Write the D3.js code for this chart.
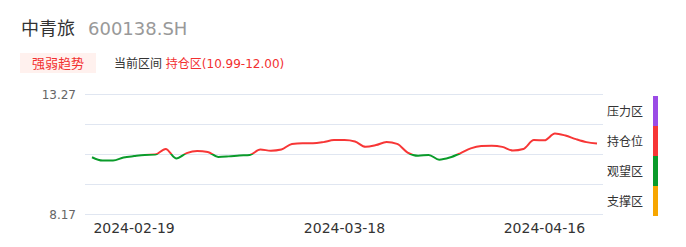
<!DOCTYPE html>
<html>
<head>
<meta charset="utf-8">
<script src="https://cdn.jsdelivr.net/npm/d3@7"></script>
<style>
  body { margin: 0; background: #fff; }
  text { font-family: "DejaVu Sans", "Noto Sans CJK SC", sans-serif; }
</style>
</head>
<body>
<script>
let w = 686;
let h = 247;

let stockName = "中青旅";
let stockCode = "600138.SH";
let zoneNow = "持仓区(10.99-12.00)";

// trading days shown on the chart
let dates = ["2024-02-05", "2024-02-06", "2024-02-07", "2024-02-08",
             "2024-02-19", "2024-02-20", "2024-02-21", "2024-02-22", "2024-02-23",
             "2024-02-26", "2024-02-27", "2024-02-28", "2024-02-29", "2024-03-01",
             "2024-03-04", "2024-03-05", "2024-03-06", "2024-03-07", "2024-03-08",
             "2024-03-11", "2024-03-12", "2024-03-13", "2024-03-14", "2024-03-15",
             "2024-03-18", "2024-03-19", "2024-03-20", "2024-03-21", "2024-03-22",
             "2024-03-25", "2024-03-26", "2024-03-27", "2024-03-28", "2024-03-29",
             "2024-04-01", "2024-04-02", "2024-04-03", "2024-04-08", "2024-04-09",
             "2024-04-10", "2024-04-11", "2024-04-12", "2024-04-15", "2024-04-16",
             "2024-04-17", "2024-04-18", "2024-04-19", "2024-04-22", "2024-04-23"];

let prices = [10.88, 10.77, 10.77, 10.87, 10.92, 10.96, 10.97, 11.16, 10.84, 11.02,
              11.09, 11.06, 10.89, 10.91, 10.94, 10.96, 11.14, 11.10, 11.14, 11.33,
              11.35, 11.35, 11.39, 11.46, 11.46, 11.41, 11.23, 11.29, 11.39, 11.33,
              11.04, 10.93, 10.96, 10.80, 10.87, 11.01, 11.18, 11.26, 11.27, 11.23,
              11.11, 11.16, 11.46, 11.45, 11.68, 11.61, 11.49, 11.39, 11.34];

let tickDates = ["2024-02-19", "2024-03-18", "2024-04-16"];
// zone boundaries, bottom to top
let bounds = [8.17, 9.98, 10.99, 12.00, 13.27];
let yLabels = ["13.27", "8.17"];
let zoneNames = ["压力区", "持仓位", "观望区", "支撑区"];
let zoneColors = ["#9b4be6", "#f73636", "#0a9b2a", "#f7a600"];

let svg = d3.select("body")
            .append("svg")
            .attr("width", w)
            .attr("height", h);

// header
svg.append("text")
   .attr("x", 21).attr("y", 35)
   .attr("font-size", "18px")
   .attr("fill", "#333")
   .text(stockName);
svg.append("text")
   .attr("x", 88).attr("y", 35)
   .attr("font-size", "18px")
   .attr("fill", "#999")
   .text(stockCode);

svg.append("rect")
   .attr("x", 20).attr("y", 53)
   .attr("width", 76).attr("height", 20)
   .attr("fill", "#fff1ee");
svg.append("text")
   .attr("x", 58).attr("y", 67.5)
   .attr("text-anchor", "middle")
   .attr("font-size", "13px")
   .attr("fill", "#f23030")
   .text("强弱趋势");
let cur = svg.append("text")
   .attr("x", 114).attr("y", 67.5)
   .attr("font-size", "12px")
   .attr("fill", "#333");
cur.append("tspan").text("当前区间 ");
cur.append("tspan").attr("fill", "#f23030").text(zoneNow);

// scales
let xScale = d3.scalePoint()
               .domain(dates)
               .range([92, 597]);
let yScale = d3.scaleLinear()
               .domain(bounds)
               .range([214, 184, 154, 124, 94]);

// grid lines at zone boundaries
svg.selectAll("line.grid")
   .data(bounds)
   .enter()
   .append("line")
   .attr("class", "grid")
   .attr("x1", 85).attr("x2", 603)
   .attr("y1", d => Math.round(yScale(d)) + 0.5)
   .attr("y2", d => Math.round(yScale(d)) + 0.5)
   .attr("stroke", "#e0e6f1")
   .attr("stroke-width", 1);

svg.selectAll("text.ylab")
   .data(yLabels)
   .enter()
   .append("text")
   .attr("class", "ylab")
   .attr("x", 76)
   .attr("y", d => yScale(+d) + 4.5)
   .attr("text-anchor", "end")
   .attr("font-size", "12px")
   .attr("fill", "#666")
   .text(d => d);

svg.selectAll("text.xlab")
   .data(tickDates)
   .enter()
   .append("text")
   .attr("class", "xlab")
   .attr("x", d => xScale(d))
   .attr("y", 233)
   .attr("text-anchor", "middle")
   .attr("font-size", "14px")
   .attr("fill", "#333")
   .text(d => d);

// line coloured by zone using a hard-stop gradient
let grad = svg.append("defs")
              .append("linearGradient")
              .attr("id", "zoneGrad")
              .attr("gradientUnits", "userSpaceOnUse")
              .attr("x1", 0).attr("x2", 0)
              .attr("y1", yScale(bounds[4]))
              .attr("y2", yScale(bounds[0]));
let span = yScale(bounds[0]) - yScale(bounds[4]);
zoneColors.forEach(function(c, i) {
    let top = (yScale(bounds[4 - i]) - yScale(bounds[4])) / span;
    let bot = (yScale(bounds[3 - i]) - yScale(bounds[4])) / span;
    grad.append("stop").attr("offset", top).attr("stop-color", c);
    grad.append("stop").attr("offset", bot).attr("stop-color", c);
});

let line = d3.line()
             .x((d, i) => xScale(dates[i]))
             .y(d => yScale(d))
             .curve(d3.curveMonotoneX);

svg.append("path")
   .datum(prices)
   .attr("d", line)
   .attr("fill", "none")
   .attr("stroke", "url(#zoneGrad)")
   .attr("stroke-width", 2);

// right legend
svg.selectAll("rect.zone")
   .data(zoneColors)
   .enter()
   .append("rect")
   .attr("class", "zone")
   .attr("x", 653)
   .attr("y", (d, i) => 96 + i * 30)
   .attr("width", 5)
   .attr("height", 30)
   .attr("fill", d => d);

svg.selectAll("text.zone")
   .data(zoneNames)
   .enter()
   .append("text")
   .attr("class", "zone")
   .attr("x", 607)
   .attr("y", (d, i) => 115.5 + i * 30)
   .attr("font-size", "12px")
   .attr("fill", "#333")
   .text(d => d);
</script>
</body>
</html>
